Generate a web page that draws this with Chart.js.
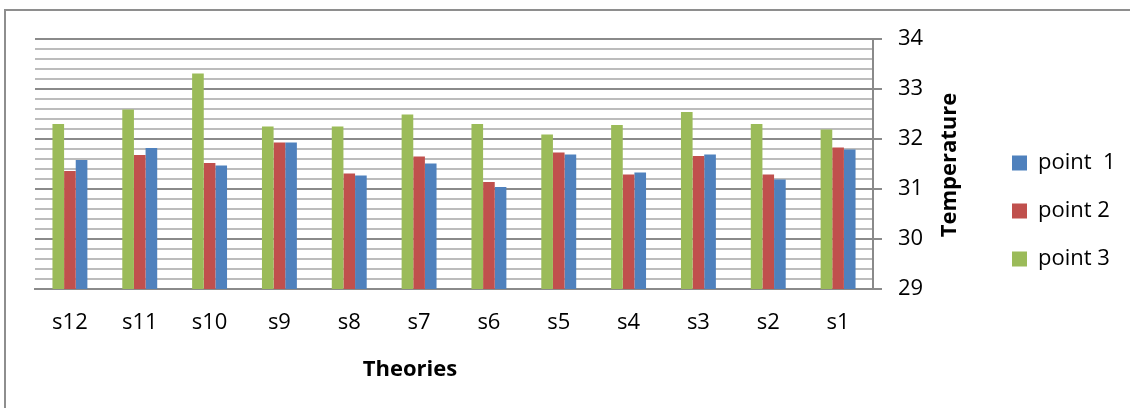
<!DOCTYPE html>
<html>
<head>
<meta charset="utf-8">
<script src="https://cdn.jsdelivr.net/npm/chart.js@4.4.1/dist/chart.umd.min.js"></script>
<style>
  html, body { margin: 0; padding: 0; background: #fff; }
  #wrap { position: relative; width: 1135px; height: 408px; overflow: hidden; }
  #frame {
    position: absolute; left: 4px; top: 9px; width: 1126px; height: 420px;
    border-top: 2px solid #8e8e8e; border-left: 2px solid #8e8e8e;
    box-sizing: border-box;
  }
  canvas { position: absolute; left: 0; top: 0; }
</style>
</head>
<body>
<div id="wrap">
  <div id="frame"></div>
  <canvas id="chart" width="1135" height="408"></canvas>
</div>
<script>
// Categories, left to right
const categories = ['s12', 's11', 's10', 's9', 's8', 's7', 's6', 's5', 's4', 's3', 's2', 's1'];

// Temperature readings per category
const point1 = [31.58, 31.82, 31.47, 31.93, 31.27, 31.51, 31.04, 31.69, 31.33, 31.69, 31.19, 31.79];
const point2 = [31.36, 31.68, 31.52, 31.93, 31.31, 31.65, 31.14, 31.73, 31.29, 31.66, 31.29, 31.83];
const point3 = [32.30, 32.59, 33.31, 32.25, 32.25, 32.49, 32.30, 32.09, 32.28, 32.54, 32.30, 32.19];

const seriesNames = ['point  1', 'point 2', 'point 3'];
const xTitle = 'Theories';
const yTitle = 'Temperature';

// Value axis range and tick spacing
const yMin = 29;
const yMax = 34;
const minorStep = 0.2;

const FONT = '"Open Sans", "DejaVu Sans", sans-serif';
const MAJOR = '#8a8a8a';
const MINOR = '#bcbcbc';

// Layout sizes
const CANVAS_W = 1135;
const PLOT_RIGHT = 873;
const Y_AXIS_W = 113;
const LEGEND_FONT = 22;
const LEGEND_BOX = 15;
const LEGEND_PAD = 26;

const isMajor = v => Math.abs(v - Math.round(v)) < 1e-6;

// Width the legend will claim, so the plot keeps its right edge
const measure = document.createElement('canvas').getContext('2d');
measure.font = LEGEND_FONT + 'px ' + FONT;
const widestLabel = Math.max(...seriesNames.map(t => measure.measureText(t).width));
const legendWidth = 10 + LEGEND_PAD + LEGEND_BOX + LEGEND_FONT / 2 + widestLabel;
const rightPad = Math.max(0, CANVAS_W - PLOT_RIGHT - Y_AXIS_W - legendWidth);

// Axis titles drawn in place (value-axis title reads bottom to top)
const axisTitles = {
  id: 'axisTitles',
  afterDraw(chart) {
    const ctx = chart.ctx;
    const area = chart.chartArea;
    ctx.save();
    ctx.fillStyle = '#000';
    ctx.font = 'bold 22px ' + FONT;
    ctx.textAlign = 'center';
    ctx.textBaseline = 'middle';
    ctx.fillText(xTitle, 410, 370);
    ctx.translate(950, (area.top + area.bottom) / 2 + 1);
    ctx.rotate(-Math.PI / 2);
    ctx.fillText(yTitle, 0, 0);
    ctx.restore();
  }
};

new Chart(document.getElementById('chart'), {
  type: 'bar',
  data: {
    labels: categories,
    datasets: [
      { label: seriesNames[2], data: point3, backgroundColor: '#9bbb59' },
      { label: seriesNames[1], data: point2, backgroundColor: '#c0504d' },
      { label: seriesNames[0], data: point1, backgroundColor: '#4f81bd' }
    ]
  },
  options: {
    responsive: false,
    animation: false,
    events: [],
    layout: { padding: { left: 35, top: 39, right: rightPad, bottom: 25 } },
    datasets: {
      bar: { categoryPercentage: 0.5, barPercentage: 1.0, borderWidth: 0 }
    },
    plugins: {
      tooltip: { enabled: false },
      legend: {
        position: 'right',
        reverse: true,
        labels: {
          color: '#000',
          font: { family: FONT, size: LEGEND_FONT },
          boxWidth: LEGEND_BOX,
          boxHeight: LEGEND_BOX,
          padding: LEGEND_PAD
        }
      }
    },
    scales: {
      x: {
        grid: { display: false, drawTicks: false },
        border: { display: true, color: MAJOR, width: 2 },
        ticks: {
          color: '#000',
          font: { family: FONT, size: 22 },
          padding: 21,
          maxRotation: 0,
          autoSkip: false
        },
        afterFit(scale) { scale.height = 94; }
      },
      y: {
        position: 'right',
        min: yMin,
        max: yMax,
        grid: {
          color: ctx => (ctx.tick && isMajor(ctx.tick.value)) ? MAJOR : MINOR,
          tickColor: ctx => (ctx.tick && isMajor(ctx.tick.value)) ? MAJOR : 'rgba(0,0,0,0)',
          lineWidth: 2,
          tickWidth: 2,
          tickLength: 9,
          drawTicks: true
        },
        border: { display: true, color: MAJOR, width: 2 },
        ticks: {
          stepSize: minorStep,
          autoSkip: false,
          color: '#000',
          font: { family: FONT, size: 22 },
          padding: 16,
          callback: v => isMajor(v) ? String(Math.round(v)) : ''
        },
        afterFit(scale) { scale.width = Y_AXIS_W; }
      }
    }
  },
  plugins: [axisTitles]
});
</script>
</body>
</html>
